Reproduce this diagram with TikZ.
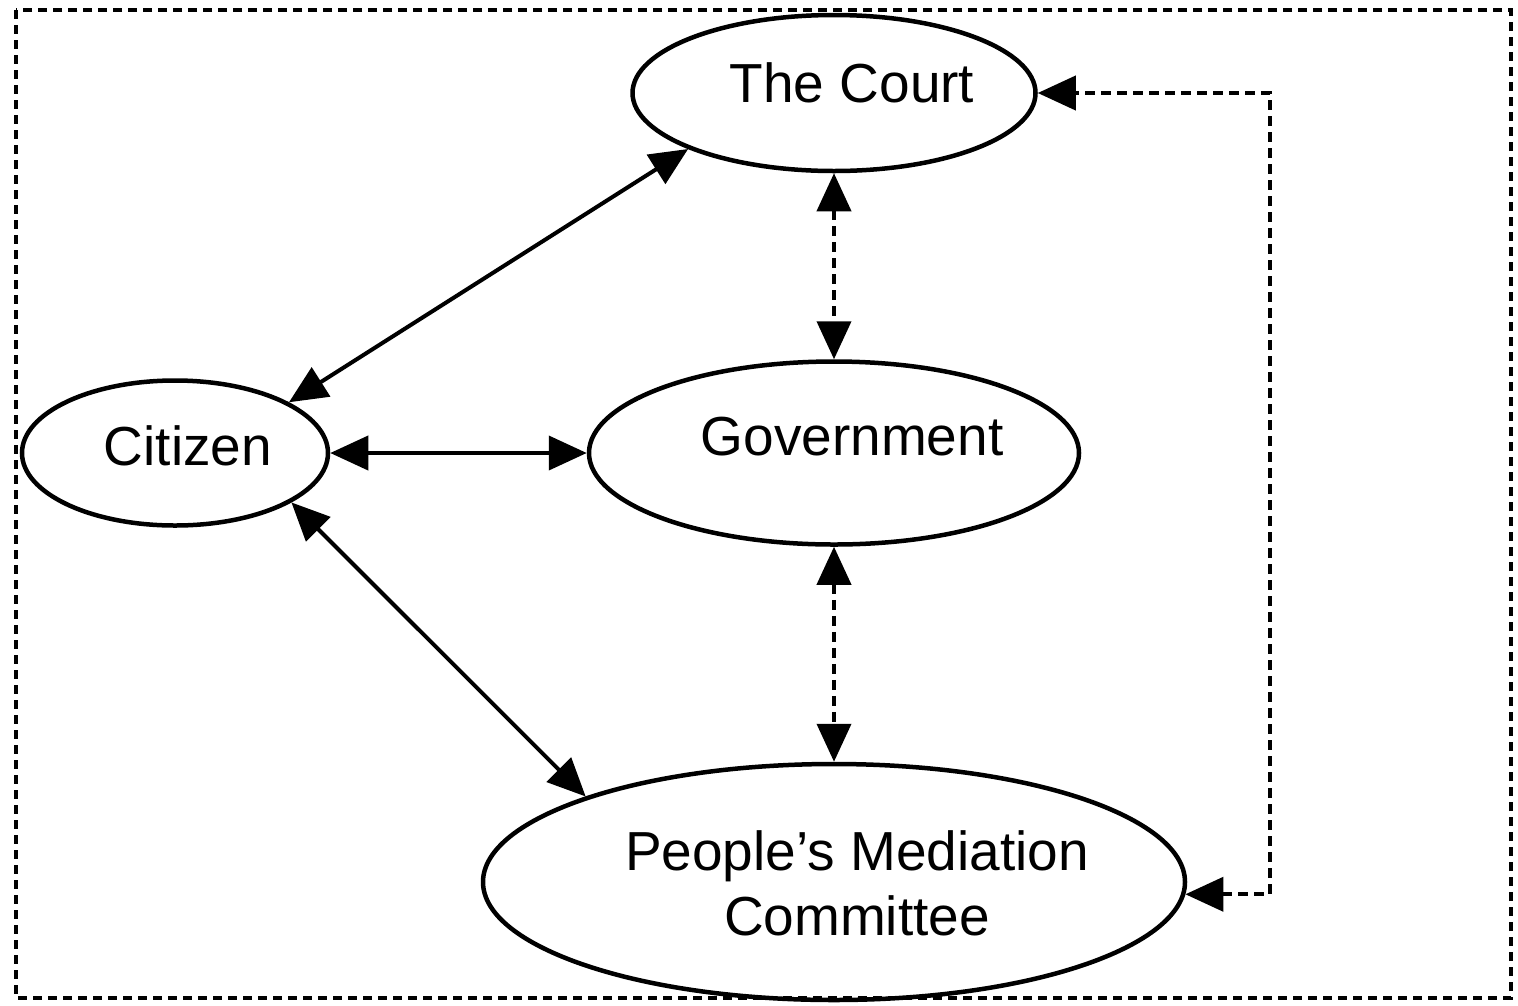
\documentclass[tikz,border=0pt]{standalone}
\usepackage{fontspec}
\setmainfont{Liberation Sans}
\usetikzlibrary{arrows.meta,shapes.geometric}
\begin{document}
\begin{tikzpicture}[x=1pt,y=-1pt,
  ell/.style={ellipse, draw, line width=4.5pt, inner sep=0pt},
  lbl/.style={anchor=base, font=\fontsize{55}{65}\selectfont, inner sep=0pt, align=center},
  twoway/.style={line width=4pt, {Triangle[length=38pt,width=34pt]}-{Triangle[length=38pt,width=34pt]}},
  dashline/.style={dash pattern=on 10pt off 6pt}]
\useasboundingbox (0,0) rectangle (1518,1005);
\fill[white] (0,0) rectangle (1518,1005);
\coordinate (f1) at (16,10);
\coordinate (f2) at (1511,998);
\draw[line width=4.5pt, dash pattern=on 9pt off 6pt] (f1) rectangle (f2);

\node[ell, minimum width=403pt, minimum height=156pt] (court) at (834,93) {};
\node[ell, minimum width=306pt, minimum height=145pt] (citizen) at (175,453) {};
\node[ell, minimum width=490pt, minimum height=183pt] (gov) at (834,453) {};
\node[ell, minimum width=702pt, minimum height=236pt] (pmc) at (834,882) {};

\node[lbl] (courtT) at (852,102) {The Court};
\node[lbl] (citizenT) at (188,465) {Citizen};
\node[lbl] (govT) at (852,455) {Government};
\node[lbl] (pmcT) at (857,935) {People’s Mediation\\Committee};

\draw[twoway] (citizen.24) -- (court.201.5);
\draw[twoway] (citizen.east) -- (gov.west);
\draw[twoway] (citizen.-23) -- (pmc.161);
\draw[twoway, dashline] (court.south) -- (gov.north);
\draw[twoway, dashline] (gov.south) -- (pmc.north);
\coordinate (rt) at (1270,93);
\draw[twoway, dashline] (pmc.-2.6) -- (pmc.-2.6 -| rt) |- (court.east);
\end{tikzpicture}
\end{document}
